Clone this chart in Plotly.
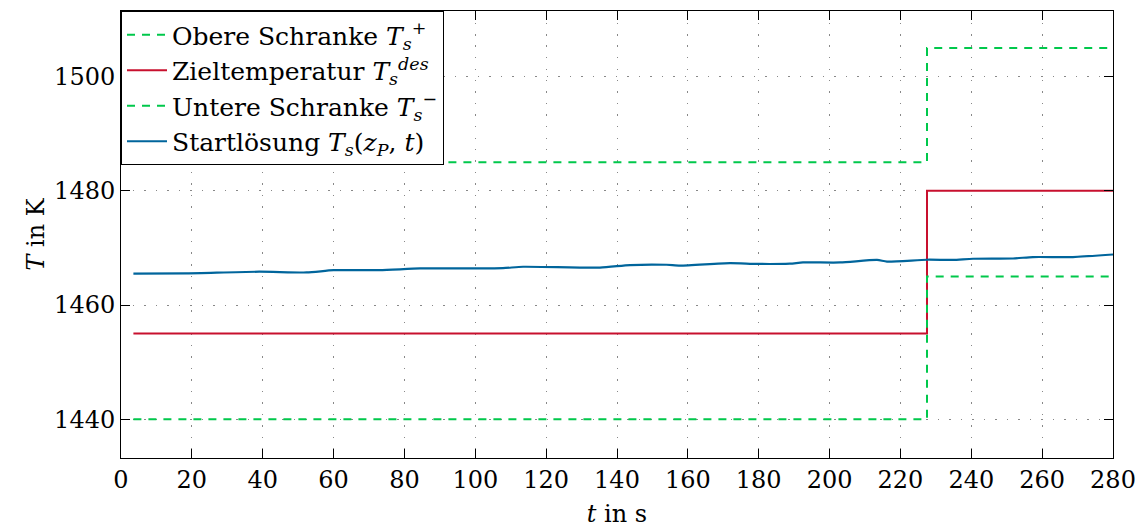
import plotly.graph_objects as go

# ---- data ----
t_step = [3.5, 227.5, 280]
upper_bound = [1485, 1505, 1505]
target_temp = [1455, 1480, 1480]
lower_bound = [1440, 1465, 1465]

t_start = [3.5, 18.6, 39.0, 52.4, 60.0, 73.0, 84.4, 95.7, 107.8, 113.5, 135.2, 143.7,
           154.0, 157.8, 171.9, 179.5, 188.8, 192.5, 203.0, 213.4, 216.2, 227.5, 234.8,
           240.5, 251.8, 257.4, 268.7, 280.0]
T_start = [1465.5, 1465.55, 1465.83, 1465.7, 1466.1, 1466.1, 1466.4, 1466.4, 1466.47,
           1466.7, 1466.55, 1467.0, 1467.05, 1466.9, 1467.35, 1467.2, 1467.25, 1467.45,
           1467.45, 1467.9, 1467.6, 1467.93, 1467.9, 1468.1, 1468.15, 1468.4, 1468.4,
           1468.85]

green = "#00C84B"
red = "#C8102E"
blue = "#00659C"
FONT = "DejaVu Serif"

fig = go.Figure()
fig.add_trace(go.Scatter(x=t_step, y=upper_bound, mode="lines", line_shape="hv",
                         line=dict(color=green, width=2, dash="8px,7px"),
                         name="Obere Schranke <i>T</i><sub><i>s</i></sub><sup>+</sup>"))
fig.add_trace(go.Scatter(x=t_step, y=target_temp, mode="lines", line_shape="hv",
                         line=dict(color=red, width=2),
                         name="Zieltemperatur <i>T</i><sub><i>s</i></sub><sup><i>des</i></sup>"))
fig.add_trace(go.Scatter(x=t_step, y=lower_bound, mode="lines", line_shape="hv",
                         line=dict(color=green, width=2, dash="8px,7px"),
                         name="Untere Schranke <i>T</i><sub><i>s</i></sub><sup>−</sup>"))
fig.add_trace(go.Scatter(x=t_start, y=T_start, mode="lines", line_shape="spline",
                         line=dict(color=blue, width=2.2, smoothing=0.6),
                         name="Startlösung <i>T</i><sub><i>s</i></sub>(<i>z</i><sub><i>P</i></sub>, <i>t</i>)"))

axis_common = dict(
    showline=True, linecolor="black", linewidth=1, mirror="ticks",
    ticks="inside", ticklen=9, tickcolor="black", tickwidth=1,
    showgrid=True, gridcolor="#888888", gridwidth=1, griddash="1.5px,10px",
    zeroline=False, tickfont=dict(family=FONT, size=24, color="black"),
    automargin=False,
)

fig.update_xaxes(range=[0, 280], tickmode="array", tickvals=list(range(0, 281, 20)),
                 title=dict(text="<i>t</i> in s", font=dict(family=FONT, size=24, color="black"),
                            standoff=16),
                 **axis_common)
fig.update_yaxes(range=[1433.2, 1511.5], tickmode="array", tickvals=[1440, 1460, 1480, 1500],
                 title=dict(text="<i>T</i> in K", font=dict(family=FONT, size=24, color="black"),
                            standoff=2),
                 **axis_common)

fig.update_layout(
    width=1143, height=528,
    margin=dict(l=121, r=30, t=11, b=70),
    plot_bgcolor="white", paper_bgcolor="white",
    font=dict(family=FONT, size=24, color="black"),
    legend=dict(x=0, y=1, xanchor="left", yanchor="top",
                bgcolor="white", bordercolor="black", borderwidth=1,
                font=dict(family=FONT, size=25, color="black"),
                tracegroupgap=0, itemwidth=40),
    showlegend=True,
)

fig.write_html("out.html")
